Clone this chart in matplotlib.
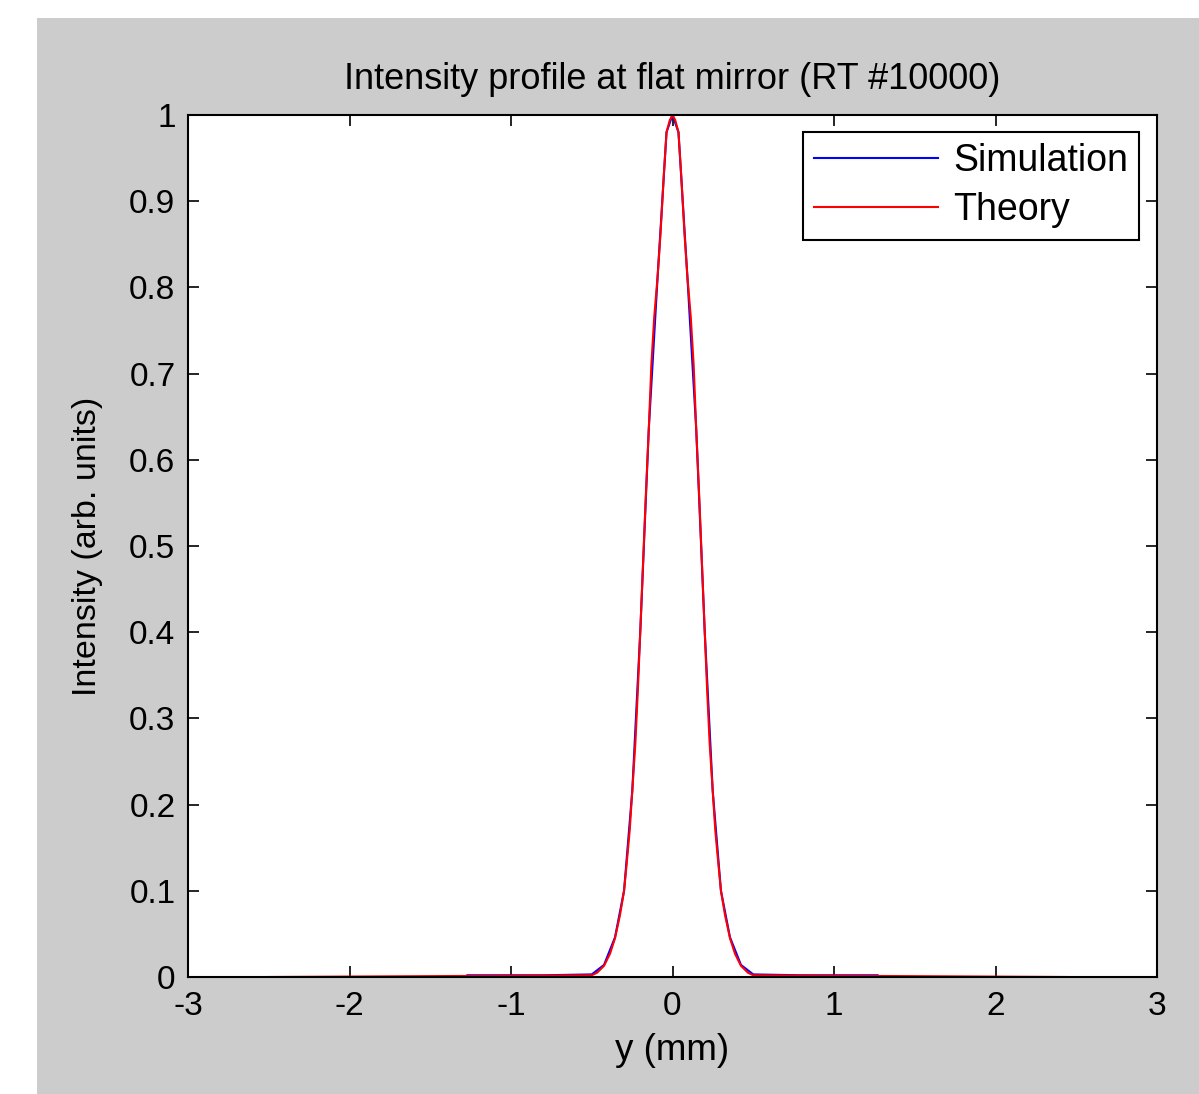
import numpy as np
import matplotlib
matplotlib.use("Agg")
import matplotlib.pyplot as plt
from matplotlib.patches import Rectangle

# data (y in mm, intensity normalised)
theory_y = [-2.50, -0.50, -0.467, -0.424, -0.387, -0.356, -0.325, -0.300, -0.284, -0.265,
            -0.249, -0.230, -0.214, -0.199, -0.183, -0.166, -0.147, -0.131, -0.113,
            -0.092, -0.074, -0.054, -0.037, -0.017, 0.0,
            0.017, 0.037, 0.054, 0.074, 0.092, 0.113, 0.131, 0.147, 0.166, 0.183,
            0.199, 0.214, 0.230, 0.249, 0.265, 0.284, 0.300, 0.325, 0.356, 0.387,
            0.424, 0.467, 0.50, 2.44]
theory_I = [0.0, 0.002, 0.005, 0.013, 0.027, 0.045, 0.072, 0.100, 0.131, 0.170,
            0.216, 0.271, 0.335, 0.403, 0.477, 0.555, 0.635, 0.710, 0.766,
            0.813, 0.863, 0.930, 0.980, 0.994, 1.0,
            0.994, 0.980, 0.930, 0.863, 0.813, 0.766, 0.710, 0.635, 0.555, 0.477,
            0.403, 0.335, 0.271, 0.216, 0.170, 0.131, 0.100, 0.072, 0.045, 0.027,
            0.013, 0.005, 0.002, 0.0]

sim_y = [-1.27, -0.80, -0.50, -0.424, -0.356, -0.300, -0.249, -0.199, -0.147, -0.092,
         -0.037, 0.0, 0.037, 0.092, 0.147, 0.199, 0.249, 0.300, 0.356, 0.424,
         0.50, 0.80, 1.27]
sim_I = [0.002, 0.002, 0.003, 0.014, 0.046, 0.100, 0.216, 0.403, 0.635, 0.813,
         0.980, 1.0, 0.980, 0.813, 0.635, 0.403, 0.216, 0.100, 0.046, 0.014,
         0.003, 0.002, 0.002]

xticks = [-3, -2, -1, 0, 1, 2, 3]
yticks = [0, 0.1, 0.2, 0.3, 0.4, 0.5, 0.6, 0.7, 0.8, 0.9, 1]
ytick_labels = ['0', '0.1', '0.2', '0.3', '0.4', '0.5', '0.6', '0.7', '0.8', '0.9', '1']

plt.rcParams['font.family'] = ['Liberation Sans', 'DejaVu Sans']

fig = plt.figure(figsize=(11.99, 10.94), dpi=100, facecolor='white')
# grey matlab figure background (white strip at left/top as in the screenshot)
bg = Rectangle((37 / 1199, 0), 1 - 37 / 1199, 1 - 18 / 1094,
               transform=fig.transFigure, facecolor='#cccccc', edgecolor='none')
bg.set_zorder(-10)
fig.add_artist(bg)

ax = fig.add_axes([188 / 1199, 1 - 977 / 1094, (1157 - 188) / 1199, (977 - 115) / 1094])
ax.set_zorder(1)
ax.plot(sim_y, sim_I, color='blue', lw=1.5, label='Simulation')
ax.plot(theory_y, theory_I, color='red', lw=1.5, label='Theory')

ax.set_xlim(-3, 3)
ax.set_ylim(0, 1)
ax.set_xticks(xticks)
ax.set_xticklabels([str(t) for t in xticks])
ax.set_yticks(yticks)
ax.set_yticklabels(ytick_labels)
ax.tick_params(direction='in', length=8, width=1.2, top=True, right=True,
               labelsize=24)
ax.tick_params(axis='x', pad=10)
ax.tick_params(axis='y', pad=9)
for s in ax.spines.values():
    s.set_linewidth(1.5)

ax.set_title('Intensity profile at flat mirror (RT #10000)', fontsize=26, pad=18.5)
ax.set_xlabel('y (mm)', fontsize=26.5, labelpad=8)
ax.set_ylabel('Intensity (arb. units)', fontsize=24.5, labelpad=19)

leg = ax.legend(loc='upper right', bbox_to_anchor=(0.9814, 0.9803), borderaxespad=0,
                fontsize=27, fancybox=False, edgecolor='black', framealpha=1,
                handlelength=3.3, handletextpad=0.4, labelspacing=0.35,
                borderpad=0.3)
leg.get_frame().set_linewidth(1.5)

fig.savefig('out.png', dpi=100, facecolor=fig.get_facecolor())
